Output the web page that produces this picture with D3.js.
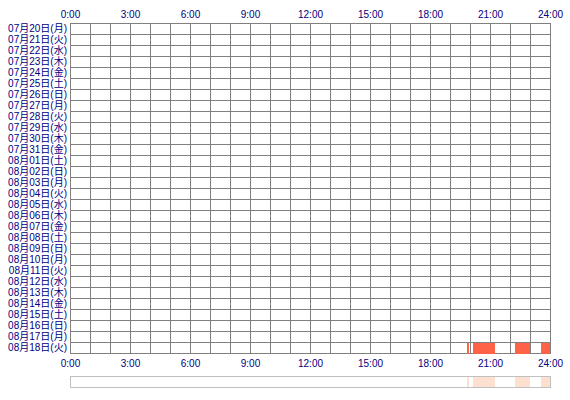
<!DOCTYPE html>
<html>
<head>
<meta charset="utf-8">
<script src="https://cdn.jsdelivr.net/npm/d3@7"></script>
<style>
  body { margin: 0; background: #fff; }
  text { font-family: "Liberation Sans", "Noto Sans CJK JP", sans-serif; font-size: 10px; fill: #000080; }
</style>
</head>
<body>
<script>
// row labels, one per day
var days = [
  "07月20日(月)", "07月21日(火)", "07月22日(水)", "07月23日(木)", "07月24日(金)",
  "07月25日(土)", "07月26日(日)", "07月27日(月)", "07月28日(火)", "07月29日(水)",
  "07月30日(木)", "07月31日(金)", "08月01日(土)", "08月02日(日)", "08月03日(月)",
  "08月04日(火)", "08月05日(水)", "08月06日(木)", "08月07日(金)", "08月08日(土)",
  "08月09日(日)", "08月10日(月)", "08月11日(火)", "08月12日(水)", "08月13日(木)",
  "08月14日(金)", "08月15日(土)", "08月16日(日)", "08月17日(月)", "08月18日(火)"
];

// hour ticks
var hourTicks = [0, 3, 6, 9, 12, 15, 18, 21, 24];

// active sessions (day, start hour, end hour)
var sessionDay = ["08月18日(火)", "08月18日(火)", "08月18日(火)", "08月18日(火)"];
var sessionStart = [19.85, 20.15, 22.25, 23.55];
var sessionEnd = [19.95, 21.25, 23.0, 24];

var svgWidth = 570;
var svgHeight = 400;

var svg = d3.select("body")
  .append("svg")
  .attr("width", svgWidth)
  .attr("height", svgHeight);

// scales
var x = d3.scaleLinear().domain([0, 24]).range([70, 550]);
var y = d3.scaleBand().domain(days).range([23, 353]).padding(0);

var sessions = sessionDay.map(function(d, i) {
  return { day: d, start: sessionStart[i], end: sessionEnd[i] };
});

// grid lines, one per hour and one per day
var grid = svg.append("g").attr("stroke", "#808080").attr("stroke-width", 1);
grid.selectAll("line.v")
  .data(d3.range(0, 25))
  .enter().append("line")
  .attr("class", "v")
  .attr("x1", d => Math.round(x(d)) + 0.5)
  .attr("x2", d => Math.round(x(d)) + 0.5)
  .attr("y1", y.range()[0])
  .attr("y2", y.range()[1] + 1);

grid.selectAll("line.h")
  .data(days.concat(["end"]))
  .enter().append("line")
  .attr("class", "h")
  .attr("x1", x(0))
  .attr("x2", x(24) + 1)
  .attr("y1", (d, i) => y.range()[0] + i * y.bandwidth() + 0.5)
  .attr("y2", (d, i) => y.range()[0] + i * y.bandwidth() + 0.5);

// session bars on top of grid
svg.selectAll("rect.session")
  .data(sessions)
  .enter().append("rect")
  .attr("class", "session")
  .attr("x", d => Math.round(x(d.start)))
  .attr("y", d => y(d.day) + 1)
  .attr("width", d => Math.max(2, Math.round(x(d.end)) - Math.round(x(d.start))))
  .attr("height", y.bandwidth())
  .attr("fill", "#ff6347");

// top axis
var topAxis = svg.append("g")
  .attr("transform", "translate(0, 18)")
  .call(d3.axisTop(x).tickValues(hourTicks).tickFormat(d => d + ":00").tickSize(0).tickPadding(0));
topAxis.select(".domain").remove();

// bottom axis
var bottomAxis = svg.append("g")
  .attr("transform", "translate(0, 360)")
  .call(d3.axisBottom(x).tickValues(hourTicks).tickFormat(d => d + ":00").tickSize(0).tickPadding(0));
bottomAxis.select(".domain").remove();

// day labels
var leftAxis = svg.append("g")
  .attr("transform", "translate(67, 0)")
  .call(d3.axisLeft(y).tickSize(0).tickPadding(0));
leftAxis.select(".domain").remove();

svg.selectAll(".tick text")
  .attr("fill", "#000080")
  .style("font-family", '"Liberation Sans", "Noto Sans CJK JP", sans-serif')
  .style("font-size", "10px");

// overview strip
svg.append("rect")
  .attr("x", x(0) + 0.5).attr("y", 376.5)
  .attr("width", x(24) - x(0)).attr("height", 11)
  .attr("fill", "#fff")
  .attr("stroke", "#c0c0c0");

svg.selectAll("rect.strip")
  .data(sessions)
  .enter().append("rect")
  .attr("class", "strip")
  .attr("x", d => Math.round(x(d.start)))
  .attr("y", 377)
  .attr("width", d => Math.max(2, Math.round(x(d.end)) - Math.round(x(d.start))))
  .attr("height", 10)
  .attr("fill", "#fee0d0");
</script>
</body>
</html>
